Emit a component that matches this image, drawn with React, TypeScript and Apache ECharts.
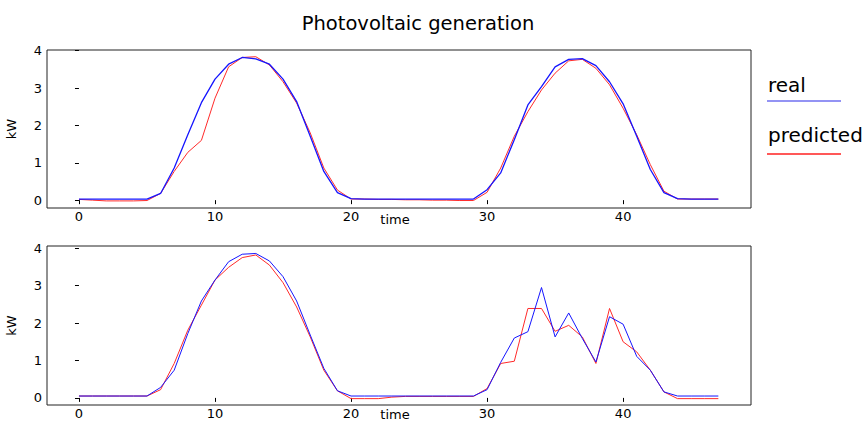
import React, { useEffect, useRef } from "react";
import * as echarts from "echarts";

const timeIdx: number[] = Array.from({ length: 48 }, (_, i) => i);

const realTop = [
  0.03, 0.03, 0.03, 0.03, 0.03, 0.03,
  0.18, 0.86, 1.75, 2.61, 3.24, 3.64, 3.82, 3.78, 3.64, 3.24, 2.64, 1.71, 0.77, 0.2,
  0.04, 0.03, 0.03, 0.03, 0.03, 0.03, 0.03, 0.03, 0.03, 0.03,
  0.28, 0.73, 1.62, 2.55, 3.04, 3.57, 3.77, 3.79, 3.6, 3.17, 2.58, 1.71, 0.82, 0.2,
  0.04, 0.03, 0.03, 0.03,
];
const predTop = [
  0.02, 0.0, -0.02, -0.02, -0.02, -0.01,
  0.18, 0.77, 1.28, 1.6, 2.73, 3.57, 3.82, 3.84, 3.62, 3.17, 2.6, 1.8, 0.86, 0.27,
  0.03, 0.03, 0.02, 0.02, 0.01, 0.01, 0.0, 0.0, -0.01, -0.01,
  0.21, 0.86, 1.71, 2.37, 2.95, 3.4, 3.73, 3.77, 3.53, 3.09, 2.46, 1.75, 0.95, 0.24,
  0.03, 0.03, 0.03, 0.03,
];
const realBottom = [
  0.05, 0.05, 0.05, 0.05, 0.05, 0.05,
  0.28, 0.74, 1.72, 2.59, 3.15, 3.64, 3.84, 3.86, 3.66, 3.24, 2.59, 1.68, 0.79, 0.19,
  0.05, 0.05, 0.05, 0.05, 0.05, 0.05, 0.05, 0.05, 0.05, 0.05,
  0.22, 0.95, 1.6, 1.77, 2.95, 1.63, 2.27, 1.59, 0.96, 2.17, 1.97, 1.11, 0.74, 0.16,
  0.05, 0.05, 0.05, 0.05,
];
const predBottom = [
  0.05, 0.05, 0.05, 0.05, 0.05, 0.05,
  0.22, 0.92, 1.81, 2.48, 3.15, 3.49, 3.75, 3.82, 3.55, 3.08, 2.43, 1.63, 0.74, 0.19,
  -0.02, -0.02, -0.02, 0.02, 0.04, 0.04, 0.04, 0.04, 0.04, 0.04,
  0.25, 0.92, 0.98, 2.39, 2.39, 1.78, 1.94, 1.63, 0.92, 2.39, 1.5, 1.23, 0.74, 0.16,
  -0.02, -0.02, -0.02, -0.02,
];

const xTicks = [0, 10, 20, 30, 40];
const yTicks = [0, 1, 2, 3, 4];
const seriesNames = ["real", "predicted"];
const titleText = "Photovoltaic generation";

const FONT = "DejaVu Sans";
const BLUE = "#1515ff";
const RED = "#ff2a2a";

export default function App() {
  const ref = useRef<HTMLDivElement>(null);
  useEffect(() => {
    if (!ref.current) return;
    const chart = echarts.init(ref.current, null, { renderer: "svg" });
    const pair = (arr: number[]) => timeIdx.map((t, i) => [t, arr[i]]);
    const xAxisBase = (gridIndex: number, nameGap: number) => ({
      type: "value" as const,
      gridIndex,
      min: -2.35,
      max: 49.4,
      name: "time",
      nameLocation: "middle" as const,
      nameGap,
      nameMoveOverlap: false,
      nameTextStyle: { fontFamily: FONT, fontSize: 13, lineHeight: 14, color: "#000", padding: [0, 8, 0, 0] },
      axisLine: { show: false },
      splitLine: { show: false },
      axisTick: { show: true, inside: false, length: 4, customValues: xTicks, lineStyle: { color: "#000" } },
      axisLabel: { customValues: xTicks, fontFamily: FONT, fontSize: 13, color: "#000", margin: 2 },
    });
    const yAxisBase = (gridIndex: number, min: number, max: number) => ({
      type: "value" as const,
      gridIndex,
      min,
      max,
      name: "kW",
      nameLocation: "middle" as const,
      nameGap: 29,
      nameMoveOverlap: false,
      nameTextStyle: { fontFamily: FONT, fontSize: 13, color: "#000" },
      axisLine: { show: false },
      splitLine: { show: false },
      axisTick: { show: true, inside: false, length: 4, customValues: yTicks, lineStyle: { color: "#000" } },
      axisLabel: { customValues: yTicks, fontFamily: FONT, fontSize: 13, color: "#000", margin: 5 },
    });
    const line = (name: string, data: number[], idx: number, color: string, width: number) => ({
      type: "line" as const,
      name,
      xAxisIndex: idx,
      yAxisIndex: idx,
      data: pair(data),
      showSymbol: false,
      lineStyle: { color, width },
      itemStyle: { color },
      z: name === "real" ? 3 : 2,
    });
    chart.setOption({
      animation: false,
      backgroundColor: "#fff",
      title: {
        text: titleText,
        left: 413,
        textAlign: "center",
        top: 8,
        textStyle: { fontFamily: FONT, fontSize: 19.5, fontWeight: "normal", color: "#000" },
      },
      grid: [
        { left: 47, top: 50, width: 704, height: 158, show: true, borderColor: "#222", borderWidth: 1, backgroundColor: "transparent", outerBoundsMode: "none", containLabel: false },
        { left: 47, top: 246, width: 704, height: 159, show: true, borderColor: "#222", borderWidth: 1, backgroundColor: "transparent", outerBoundsMode: "none", containLabel: false },
      ],
      xAxis: [xAxisBase(0, 4), xAxisBase(1, 2)],
      yAxis: [yAxisBase(0, -0.21, 4.02), yAxisBase(1, -0.19, 4.06)],
      series: [
        line(seriesNames[1], predTop, 0, RED, 1),
        line(seriesNames[0], realTop, 0, BLUE, 1.3),
        line(seriesNames[1], predBottom, 1, RED, 1),
        line(seriesNames[0], realBottom, 1, BLUE, 1),
      ],
      graphic: [
        { type: "text", left: 768, top: 75, style: { text: seriesNames[0], font: `20px '${FONT}'`, fill: "#000" } },
        { type: "line", shape: { x1: 767, y1: 101, x2: 841, y2: 101 }, style: { stroke: "#6f6ff0", lineWidth: 1.3 } },
        { type: "text", left: 768, top: 125, style: { text: seriesNames[1], font: `20px '${FONT}'`, fill: "#000" } },
        { type: "line", shape: { x1: 767, y1: 154, x2: 841, y2: 154 }, style: { stroke: "#ff2020", lineWidth: 1.3 } },
      ],
    });
    return () => chart.dispose();
  }, []);
  return (
    <div
      ref={ref}
      style={{ position: "fixed", left: 0, top: 0, width: 865, height: 422, background: "#fff" }}
    />
  );
}
